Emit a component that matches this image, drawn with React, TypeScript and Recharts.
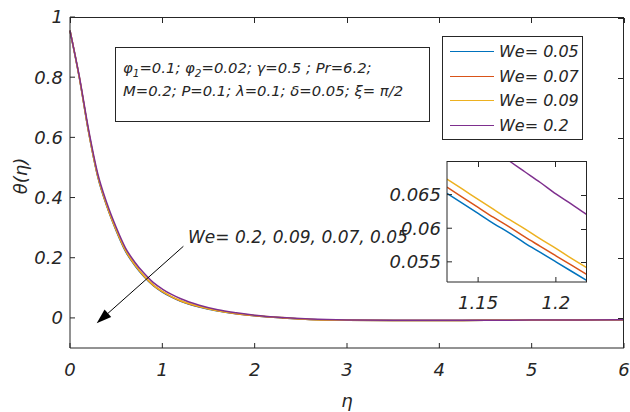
import { LineChart, Line, XAxis, YAxis, Label, ReferenceLine } from 'recharts'

// main plot, theta(eta) for each We
const eta = [0, 0.1, 0.2, 0.3, 0.4, 0.5, 0.6, 0.7, 0.8, 0.9, 1.0, 1.1, 1.2, 1.4, 1.6, 1.8, 2.0, 2.3, 2.6, 3.0, 3.5, 4.0, 4.5, 5.0, 5.5, 6.0]
const thetaWe005 = [0.955, 0.8, 0.62, 0.47, 0.37, 0.29, 0.222, 0.175, 0.138, 0.108, 0.086, 0.069, 0.055, 0.036, 0.023, 0.014, 0.007, 0.0, -0.005, -0.008, -0.009, -0.009, -0.008, -0.008, -0.007, -0.006]
const thetaWe007 = [0.955, 0.801, 0.621, 0.472, 0.372, 0.292, 0.224, 0.177, 0.139, 0.109, 0.087, 0.07, 0.056, 0.037, 0.024, 0.014, 0.007, 0.0, -0.005, -0.008, -0.009, -0.009, -0.008, -0.008, -0.007, -0.006]
const thetaWe009 = [0.955, 0.801, 0.622, 0.473, 0.373, 0.293, 0.225, 0.178, 0.14, 0.11, 0.088, 0.071, 0.057, 0.038, 0.024, 0.015, 0.008, 0.001, -0.005, -0.008, -0.009, -0.009, -0.008, -0.008, -0.007, -0.006]
const thetaWe02 = [0.955, 0.804, 0.628, 0.48, 0.381, 0.301, 0.233, 0.186, 0.149, 0.118, 0.096, 0.078, 0.0635, 0.042, 0.027, 0.017, 0.009, 0.001, -0.004, -0.007, -0.008, -0.008, -0.008, -0.007, -0.007, -0.006]
const xTicks = [0, 1, 2, 3, 4, 5, 6]
const yTicks = [0, 0.2, 0.4, 0.6, 0.8, 1]

// zoomed inset
const insetEta = [1.13, 1.14, 1.15, 1.16, 1.17, 1.18, 1.19, 1.2, 1.21, 1.22]
const insetWe005 = [0.0652, 0.0637, 0.0622, 0.0607, 0.0593, 0.0578, 0.0564, 0.055, 0.0536, 0.0522]
const insetWe007 = [0.0661, 0.0646, 0.0631, 0.0616, 0.0602, 0.0587, 0.0573, 0.0559, 0.0545, 0.0531]
const insetWe009 = [0.0673, 0.0658, 0.0643, 0.0628, 0.0613, 0.0599, 0.0584, 0.057, 0.0555, 0.0541]
const insetWe02 = [0.0766, 0.0749, 0.0733, 0.0717, 0.07, 0.0684, 0.0668, 0.0651, 0.0636, 0.062]
const insetXTicks = [1.15, 1.2]
const insetYTicks = [0.055, 0.06, 0.065]

// annotation arrow (data coords)
const arrowFrom = { x: 1.228, y: 0.238 }
const arrowTo = { x: 0.289, y: -0.018 }

const SERIES = [
  { key: 'we005', name: 'We= 0.05', color: '#0072BD' },
  { key: 'we007', name: 'We= 0.07', color: '#D95319' },
  { key: 'we009', name: 'We= 0.09', color: '#EDB120' },
  { key: 'we02', name: 'We= 0.2', color: '#7E2F8E' },
]

const mainData = eta.map((x, i) => ({ eta: x, we005: thetaWe005[i], we007: thetaWe007[i], we009: thetaWe009[i], we02: thetaWe02[i] }))
const insetData = insetEta.map((x, i) => ({ eta: x, we005: insetWe005[i], we007: insetWe007[i], we009: insetWe009[i], we02: insetWe02[i] }))

const INK = '#262626'
const FONT = "'DejaVu Sans', sans-serif"
const tickStyle = { fontSize: 18, fontStyle: 'italic', fontFamily: FONT, fill: INK }
const TICK_LEN = 5

function Arrow(props: any) {
  const { x1, y1, x2, y2 } = props
  const a = Math.atan2(y2 - y1, x2 - x1)
  const len = 15
  const w = 5
  const bx = x2 - len * Math.cos(a)
  const by = y2 - len * Math.sin(a)
  const px = -Math.sin(a) * w
  const py = Math.cos(a) * w
  return (
    <g>
      <line x1={x1} y1={y1} x2={bx} y2={by} stroke="#000" strokeWidth={1} />
      <polygon points={`${x2},${y2} ${bx + px},${by + py} ${bx - px},${by - py}`} fill="#000" />
    </g>
  )
}

// top and right edges of an axes box, with inward ticks (MATLAB "box on")
function BoxEdges({ left, top, width, height, xDomain, yDomain, xt, yt }: any) {
  const [x0, x1] = xDomain
  const [y0, y1] = yDomain
  return (
    <div style={{ position: 'absolute', left, top, width, height, boxSizing: 'border-box', borderTop: `1px solid ${INK}`, borderRight: `1px solid ${INK}`, pointerEvents: 'none' }}>
      {xt.map((t: number) => (
        <div key={`x${t}`} style={{ position: 'absolute', top: 0, left: ((t - x0) / (x1 - x0)) * width - 0.5, width: 1, height: TICK_LEN, background: INK }} />
      ))}
      {yt.map((t: number) => (
        <div key={`y${t}`} style={{ position: 'absolute', right: 0, top: ((y1 - t) / (y1 - y0)) * height - 0.5, width: TICK_LEN, height: 1, background: INK }} />
      ))}
    </div>
  )
}

function LegendBox() {
  return (
    <div style={{ position: 'absolute', left: 442, top: 36, width: 141, height: 104, boxSizing: 'border-box', border: `1px solid ${INK}`, background: '#fff', paddingTop: 2 }}>
      {SERIES.map((s) => (
        <div key={s.key} style={{ display: 'flex', alignItems: 'center', height: 24.8 }}>
          <span style={{ marginLeft: 7, width: 44, borderTop: `1.5px solid ${s.color}` }} />
          <span style={{ marginLeft: 5, fontSize: 16, fontStyle: 'italic', fontFamily: FONT, color: INK }}>{s.name}</span>
        </div>
      ))}
    </div>
  )
}

const subStyle = { fontSize: 10.5, verticalAlign: -4, lineHeight: 0 }

export default function App() {
  return (
    <div style={{ position: 'relative', width: 630, height: 412, background: '#fff' }}>
      <style>{'body{margin:0}'}</style>
      <LineChart width={630} height={412} data={mainData} margin={{ top: 17, right: 6, left: 0, bottom: 0 }}>
        <XAxis dataKey="eta" type="number" domain={[0, 6]} ticks={xTicks} height={64} stroke={INK} tickSize={-5} tickMargin={20} tick={tickStyle} interval={0}>
          <Label content={() => (
            <text x={347} y={400} textAnchor="middle" dominantBaseline="central" fontSize={18} fontStyle="italic" fontFamily={FONT} fill={INK}>η</text>
          )} />
        </XAxis>
        <YAxis type="number" domain={[-0.1, 1]} ticks={yTicks} width={70} stroke={INK} tickSize={-5} tickMargin={12} tick={tickStyle} interval={0}>
          <Label content={() => (
            <text x={20} y={176} transform="rotate(-90 20 176)" textAnchor="middle" dominantBaseline="central" fontSize={18} fontStyle="italic" fontFamily={FONT} fill={INK}>θ(η)</text>
          )} />
        </YAxis>
        {SERIES.map((s) => (
          <Line key={s.key} type="monotone" dataKey={s.key} stroke={s.color} strokeWidth={1.5} dot={false} isAnimationActive={false} />
        ))}
        <ReferenceLine segment={[arrowFrom, arrowTo]} shape={Arrow} />
      </LineChart>
      <BoxEdges left={70} top={17} width={554} height={331} xDomain={[0, 6]} yDomain={[-0.1, 1]} xt={xTicks} yt={yTicks} />

      <LegendBox />

      <div style={{ position: 'absolute', left: 115, top: 47, width: 315, height: 75, boxSizing: 'border-box', border: `1.5px solid ${INK}`, background: '#fff', padding: '8px 0 0 7px', fontSize: 14.8, fontStyle: 'italic', fontFamily: FONT, color: INK, lineHeight: '23.3px', whiteSpace: 'nowrap' }}>
        <div>φ<span style={subStyle}>1</span>=0.1; φ<span style={subStyle}>2</span>=0.02; γ=0.5 ; Pr=6.2;</div>
        <div>M=0.2; P=0.1; λ=0.1; δ=0.05; ξ= π/2</div>
      </div>

      <div style={{ position: 'absolute', left: 188, top: 226, fontSize: 17, fontStyle: 'italic', fontFamily: FONT, color: INK, lineHeight: '22px', whiteSpace: 'nowrap' }}>
        We= 0.2, 0.09, 0.07, 0.05
      </div>

      <div style={{ position: 'absolute', left: 380, top: 150 }}>
        <LineChart width={215} height={165} data={insetData} margin={{ top: 11, right: 8, left: 0, bottom: 0 }}>
          <XAxis dataKey="eta" type="number" domain={[1.13, 1.22]} ticks={insetXTicks} allowDataOverflow height={33} stroke={INK} tickSize={-5} tickMargin={19} tick={tickStyle} interval={0} />
          <YAxis type="number" domain={[0.052, 0.07]} ticks={insetYTicks} allowDataOverflow width={67} stroke={INK} tickSize={-5} tickMargin={11} tick={tickStyle} interval={0} />
          {SERIES.map((s) => (
            <Line key={s.key} type="monotone" dataKey={s.key} stroke={s.color} strokeWidth={1.5} dot={false} isAnimationActive={false} />
          ))}
        </LineChart>
        <BoxEdges left={67} top={11} width={140} height={121} xDomain={[1.13, 1.22]} yDomain={[0.052, 0.07]} xt={insetXTicks} yt={insetYTicks} />
      </div>
    </div>
  )
}
